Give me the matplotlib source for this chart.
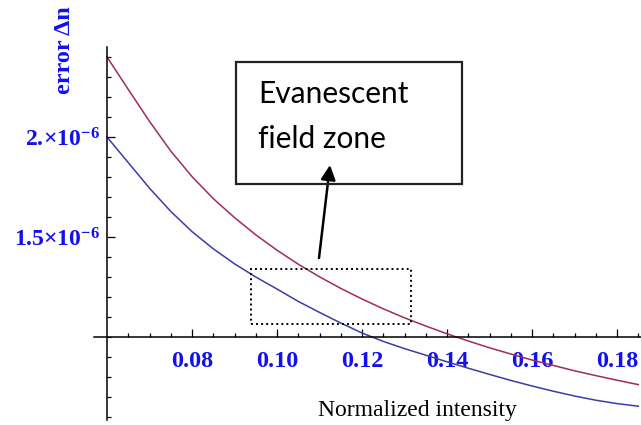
import numpy as np
import matplotlib
matplotlib.use("Agg")
import matplotlib.pyplot as plt
from matplotlib.patches import Rectangle
from matplotlib.ticker import FixedLocator, FixedFormatter

# ==========================================================
# DATA (error values in units of 1e-6)
# ==========================================================

intensity = [0.060, 0.065, 0.070, 0.075, 0.080, 0.085, 0.090, 0.095, 0.100,
             0.105, 0.110, 0.115, 0.120, 0.125, 0.130, 0.135, 0.140, 0.145,
             0.150, 0.155, 0.160, 0.165, 0.170, 0.175, 0.180, 0.185]

error_red = [2.400, 2.238, 2.078, 1.930, 1.802, 1.692, 1.597, 1.511, 1.434,
             1.364, 1.301, 1.243, 1.190, 1.141, 1.096, 1.055, 1.016, 0.980,
             0.946, 0.915, 0.885, 0.858, 0.831, 0.807, 0.784, 0.762]

error_blue = [2.000, 1.872, 1.744, 1.628, 1.527, 1.441, 1.366, 1.300, 1.240,
              1.178, 1.123, 1.070, 1.020, 0.978, 0.942, 0.909, 0.876, 0.844,
              0.813, 0.783, 0.755, 0.729, 0.705, 0.684, 0.667, 0.654]

xtick_values = [0.08, 0.10, 0.12, 0.14, 0.16, 0.18]
xtick_labels = ["0.08", "0.10", "0.12", "0.14", "0.16", "0.18"]

ytick_values = [1.5, 2.0]
ytick_labels = [r"$\mathbf{1.5{\times}10^{-6}}$", r"$\mathbf{2.\!{\times}10^{-6}}$"]

x_label = "Normalized intensity"
y_label = "error \u0394n"
box_lines = ["Evanescent", "field zone"]

# ==========================================================
# LAYOUT HELPERS (pixel <-> data)
# ==========================================================

W, H = 641, 425
X0_PX, X_PER_PX = 107, 0.02 / 85      # x = 0.06 at pixel 107
Y0_PX, Y_PER_PX = 337, 0.5 / 100      # y = 1.0 at pixel 337


def px2x(px):
    return 0.06 + (px - X0_PX) * X_PER_PX


def py2y(py):
    return 1.0 + (Y0_PX - py) * Y_PER_PX


def fig_xy(px, py):
    return px / W, 1 - py / H


plt.rcParams["font.family"] = "Liberation Serif"
plt.rcParams["font.weight"] = "bold"
plt.rcParams["mathtext.fontset"] = "custom"
plt.rcParams["mathtext.rm"] = "Liberation Serif:bold"
plt.rcParams["mathtext.bf"] = "Liberation Serif:bold"
plt.rcParams["mathtext.it"] = "Liberation Serif:bold"

BLUE_TEXT = "#1010f0"
RED_LINE = "#a02a62"
BLUE_LINE = "#3c3ca8"

fig = plt.figure(figsize=(6.41, 4.25), dpi=100)
ax = fig.add_axes([0, 0, 1, 1])
ax.set_xlim(px2x(0), px2x(W))
ax.set_ylim(py2y(H), py2y(0))

# ==========================================================
# CURVES
# ==========================================================

ax.plot(intensity, error_red, color=RED_LINE, lw=1.1)
ax.plot(intensity, error_blue, color=BLUE_LINE, lw=1.1)

# ==========================================================
# AXES (Mathematica style, crossing at (0.06, 1e-6))
# ==========================================================

for side in ["top", "right"]:
    ax.spines[side].set_visible(False)
ax.spines["left"].set_position(("data", 0.06))
ax.spines["bottom"].set_position(("data", 1.0))
ax.spines["left"].set_bounds(py2y(420), py2y(47))
ax.spines["bottom"].set_bounds(px2x(94), px2x(W))
ax.spines["left"].set_linewidth(1.1)
ax.spines["bottom"].set_linewidth(1.1)

ax.xaxis.set_major_locator(FixedLocator(xtick_values))
ax.xaxis.set_major_formatter(FixedFormatter(xtick_labels))
ax.xaxis.set_minor_locator(FixedLocator(np.arange(0.065, 0.186, 0.005)))

ax.yaxis.set_major_locator(FixedLocator(ytick_values))
ax.yaxis.set_major_formatter(FixedFormatter(ytick_labels))
ax.yaxis.set_minor_locator(FixedLocator(np.arange(0.6, 2.45, 0.1)))

ax.tick_params(which="both", direction="in", width=0.9, colors="black",
               labelcolor=BLUE_TEXT)
ax.tick_params(which="major", length=5.5)
ax.tick_params(which="minor", length=3)
ax.tick_params(axis="x", which="major", pad=10, labelsize=17.5)
ax.tick_params(axis="y", which="major", pad=5, labelsize=17)

# ==========================================================
# AXIS LABELS
# ==========================================================

fig.text(*fig_xy(417, 416), x_label, ha="center", va="baseline",
         fontsize=17, weight="normal", color="black")
fig.text(*fig_xy(64, 50), y_label, ha="center", va="center", rotation=90,
         fontsize=17.5, weight="bold", color=BLUE_TEXT)

# ==========================================================
# ANNOTATION
# ==========================================================

bx0, by0 = fig_xy(236, 184)
bx1, by1 = fig_xy(462, 62)
fig.add_artist(Rectangle((bx0, by0), bx1 - bx0, by1 - by0, fill=False,
                         lw=1.6, edgecolor="#222222",
                         transform=fig.transFigure))

fig.text(*fig_xy(258, 103), box_lines[0], ha="left", va="baseline",
         fontsize=21.5, family="Lato", weight="normal", color="black")
fig.text(*fig_xy(258, 148), box_lines[1], ha="left", va="baseline",
         fontsize=21.5, family="Lato", weight="normal", color="black")

dx0, dy0 = fig_xy(251, 324)
dx1, dy1 = fig_xy(411, 269)
fig.add_artist(Rectangle((dx0, dy0), dx1 - dx0, dy1 - dy0, fill=False,
                         lw=1.4, ls=(0, (1, 1.6)), edgecolor="black",
                         transform=fig.transFigure))

ax.annotate("", xy=fig_xy(330, 165), xytext=fig_xy(319, 258),
            xycoords="figure fraction", textcoords="figure fraction",
            arrowprops=dict(arrowstyle="-|>", lw=1.8, color="black",
                            mutation_scale=22, shrinkA=0, shrinkB=0))

fig.savefig("out.png", dpi=100)
